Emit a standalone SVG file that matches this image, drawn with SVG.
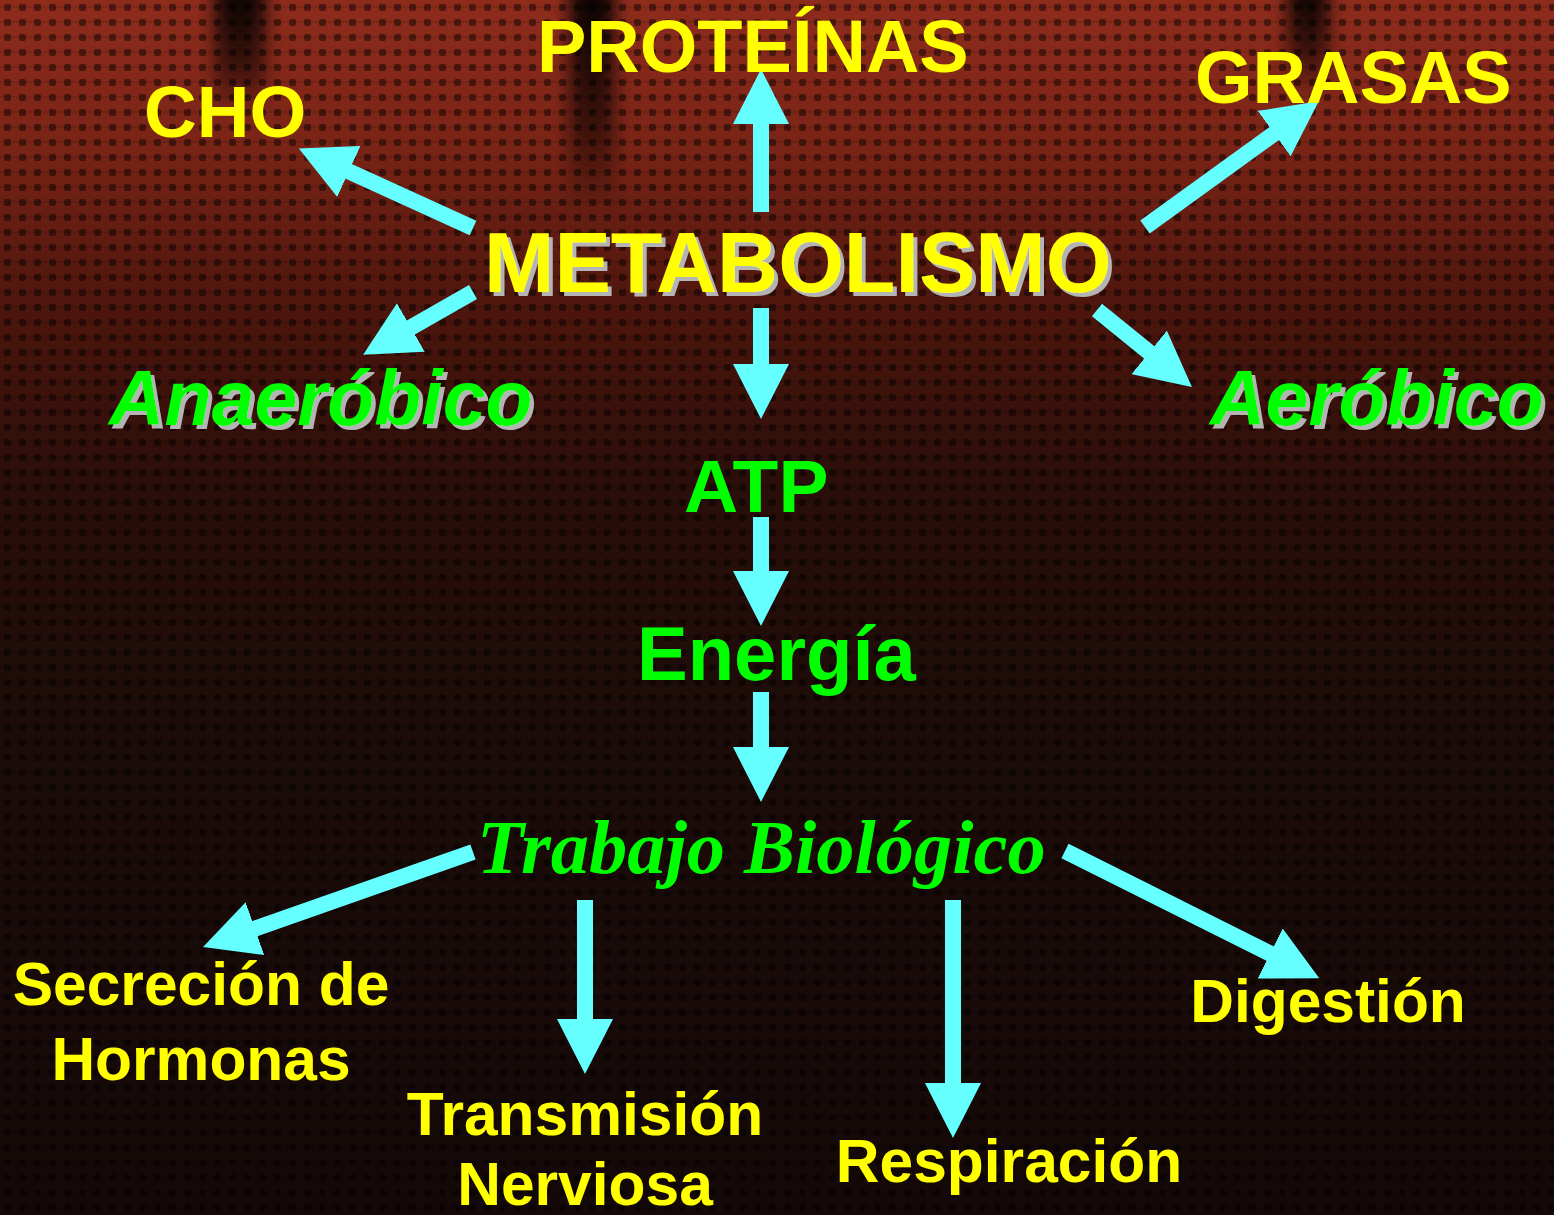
<svg xmlns="http://www.w3.org/2000/svg" width="1554" height="1215" viewBox="0 0 1554 1215">
<style>
.sans{font-family:"Liberation Sans",Arial,sans-serif;font-weight:bold}
.serif{font-family:"Liberation Serif","Times New Roman",serif;font-weight:bold;font-style:italic}
.yel{fill:#ffff00}
.grn{fill:#00ff00}
.shadow{filter:url(#shd)}
.conn line{stroke:#66ffff;stroke-width:16;marker-end:url(#head)}
</style>
<defs>
<linearGradient id="bg" x1="0" y1="0" x2="0" y2="1">
<stop offset="0" stop-color="#8e2c1c"/>
<stop offset="0.12" stop-color="#7a2416"/>
<stop offset="0.25" stop-color="#4e160d"/>
<stop offset="0.4" stop-color="#2a0e09"/>
<stop offset="0.6" stop-color="#1c0c09"/>
<stop offset="1" stop-color="#140908"/>
</linearGradient>
<pattern id="weave" width="15" height="15" patternUnits="userSpaceOnUse">
<rect x="4" y="4" width="7" height="7" rx="2" fill="#000" opacity="0.45"/>
<rect x="0" y="6" width="15" height="2" fill="#000" opacity="0.1"/>
</pattern>
<linearGradient id="band" x1="0" y1="0" x2="0" y2="1">
<stop offset="0" stop-color="#000" stop-opacity="0.95"/>
<stop offset="0.6" stop-color="#000" stop-opacity="0.55"/>
<stop offset="1" stop-color="#000" stop-opacity="0"/>
</linearGradient>
<filter id="blur" x="-100%" y="-20%" width="300%" height="140%"><feGaussianBlur stdDeviation="9 6"/></filter>
<filter id="shd" x="-5%" y="-10%" width="115%" height="130%">
<feOffset in="SourceAlpha" dx="3.5" dy="3.5" result="o"/>
<feFlood flood-color="#b4b4b4"/>
<feComposite in2="o" operator="in" result="s"/>
<feMerge><feMergeNode in="s"/><feMergeNode in="SourceGraphic"/></feMerge>
</filter>
<marker id="head" markerUnits="userSpaceOnUse" markerWidth="56" markerHeight="56" viewBox="0 0 56 56" refX="1" refY="28" orient="auto">
<path d="M0,0 L55,28 L0,56 Z" fill="#66ffff"/>
</marker>
</defs>
<g id="background">
<rect width="1554" height="1215" fill="url(#bg)"/>
<rect width="1554" height="1215" fill="url(#weave)"/>
<g filter="url(#blur)">
<rect x="215" y="-10" width="50" height="125" fill="url(#band)"/>
<rect x="570" y="-10" width="44" height="225" fill="url(#band)"/>
<rect x="1288" y="-10" width="40" height="105" fill="url(#band)"/>
</g>
</g>
<g class="conn" id="connectors">
<line x1="761" y1="212" x2="761" y2="123"/>
<line x1="473" y1="228" x2="348" y2="171"/>
<line x1="1145" y1="227" x2="1275" y2="133"/>
<line x1="473" y1="292" x2="410" y2="328"/>
<line x1="1097" y1="310" x2="1150" y2="353"/>
<line x1="761" y1="308" x2="761" y2="365"/>
<line x1="761" y1="517" x2="761" y2="572"/>
<line x1="761" y1="692" x2="761" y2="748"/>
<line x1="473" y1="852" x2="254" y2="929"/>
<line x1="585" y1="900" x2="585" y2="1020"/>
<line x1="953" y1="900" x2="953" y2="1084"/>
<line x1="1065" y1="851" x2="1271" y2="954"/>
</g>
<g id="proteinas"><text class="sans yel" x="537" y="72" font-size="74">PROTEÍNAS</text></g>
<g id="cho"><text class="sans yel" x="144" y="137" font-size="73">CHO</text></g>
<g id="grasas"><text class="sans yel" x="1195" y="103" font-size="74">GRASAS</text></g>
<g id="metabolismo"><text class="sans yel shadow" x="484" y="292" font-size="84.5">METABOLISMO</text></g>
<g id="anaerobico"><text class="sans grn shadow" x="109" y="425" font-size="77" font-style="italic">Anaeróbico</text></g>
<g id="aerobico"><text class="sans grn shadow" x="1210" y="425" font-size="77" font-style="italic">Aeróbico</text></g>
<g id="atp"><text class="sans grn" x="684" y="512" font-size="75">ATP</text></g>
<g id="energia"><text class="sans grn" x="637" y="680" font-size="76">Energía</text></g>
<g id="trabajo"><text class="serif grn" x="477" y="873" font-size="76.5">Trabajo Biológico</text></g>
<g id="secrecion" class="sans yel" font-size="60.5" text-anchor="middle">
<text x="201" y="1005">Secreción de</text>
<text x="201" y="1080">Hormonas</text>
</g>
<g id="transmision" class="sans yel" font-size="60.5" text-anchor="middle">
<text x="585" y="1135">Transmisión</text>
<text x="585" y="1205">Nerviosa</text>
</g>
<g id="respiracion"><text class="sans yel" x="1009" y="1182" font-size="60.5" text-anchor="middle">Respiración</text></g>
<g id="digestion"><text class="sans yel" x="1328" y="1022" font-size="60.5" text-anchor="middle">Digestión</text></g>
</svg>
